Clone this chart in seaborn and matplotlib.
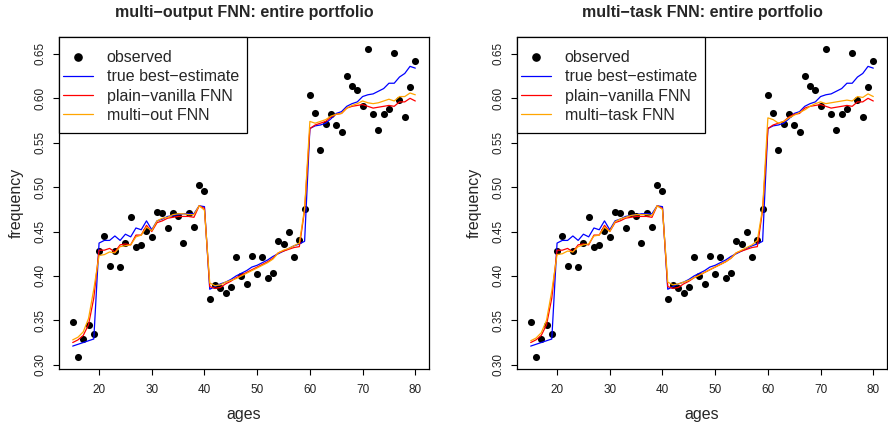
import numpy as np
import pandas as pd
import matplotlib
matplotlib.use("Agg")
import matplotlib.pyplot as plt
import seaborn as sns
from matplotlib.lines import Line2D
from matplotlib.patches import Rectangle

# ---------------- data ----------------
ages = list(range(15, 81))

observed = [0.348, 0.309, 0.329, 0.345, 0.335, 0.428, 0.445, 0.411, 0.428, 0.410,
            0.437, 0.466, 0.433, 0.435, 0.451, 0.444, 0.472, 0.471, 0.454, 0.471,
            0.467, 0.437, 0.471, 0.455, 0.502, 0.496, 0.374, 0.390, 0.386, 0.381,
            0.387, 0.421, 0.400, 0.391, 0.423, 0.402, 0.421, 0.398, 0.403, 0.439,
            0.436, 0.449, 0.421, 0.441, 0.475, 0.604, 0.584, 0.542, 0.571, 0.582,
            0.570, 0.562, 0.625, 0.614, 0.609, 0.591, 0.655, 0.582, 0.564, 0.582,
            0.588, 0.651, 0.598, 0.579, 0.613, 0.642]

true_best = [0.321, 0.323, 0.325, 0.327, 0.329, 0.437, 0.440, 0.440, 0.445, 0.440,
             0.447, 0.444, 0.454, 0.452, 0.462, 0.452, 0.462, 0.464, 0.467, 0.468,
             0.469, 0.470, 0.470, 0.470, 0.479, 0.478, 0.385, 0.388, 0.391, 0.393,
             0.396, 0.400, 0.403, 0.406, 0.410, 0.412, 0.415, 0.418, 0.422, 0.425,
             0.428, 0.431, 0.434, 0.436, 0.439, 0.566, 0.569, 0.570, 0.572, 0.577,
             0.583, 0.585, 0.591, 0.594, 0.596, 0.602, 0.604, 0.605, 0.608, 0.611,
             0.617, 0.617, 0.624, 0.628, 0.636, 0.634]

plain_vanilla = [0.325, 0.328, 0.333, 0.345, 0.375, 0.429, 0.429, 0.431, 0.427, 0.435,
                 0.436, 0.435, 0.446, 0.446, 0.457, 0.450, 0.460, 0.462, 0.465, 0.466,
                 0.467, 0.467, 0.467, 0.466, 0.479, 0.476, 0.388, 0.386, 0.387, 0.391,
                 0.394, 0.398, 0.401, 0.404, 0.407, 0.410, 0.413, 0.416, 0.420, 0.426,
                 0.428, 0.430, 0.432, 0.433, 0.474, 0.566, 0.570, 0.572, 0.574, 0.579,
                 0.582, 0.583, 0.589, 0.591, 0.592, 0.593, 0.591, 0.589, 0.590, 0.591,
                 0.592, 0.591, 0.596, 0.596, 0.600, 0.597]

multi_out = [0.328, 0.331, 0.337, 0.352, 0.385, 0.423, 0.424, 0.427, 0.426, 0.433,
             0.434, 0.435, 0.444, 0.446, 0.455, 0.451, 0.462, 0.465, 0.466, 0.469,
             0.470, 0.470, 0.469, 0.469, 0.479, 0.474, 0.392, 0.389, 0.390, 0.393,
             0.395, 0.397, 0.400, 0.403, 0.406, 0.409, 0.412, 0.415, 0.419, 0.426,
             0.429, 0.431, 0.434, 0.437, 0.476, 0.574, 0.572, 0.574, 0.576, 0.580,
             0.582, 0.583, 0.589, 0.592, 0.594, 0.597, 0.595, 0.594, 0.595, 0.597,
             0.599, 0.597, 0.602, 0.602, 0.606, 0.604]

multi_task = [0.327, 0.330, 0.336, 0.350, 0.383, 0.424, 0.425, 0.428, 0.427, 0.433,
              0.435, 0.436, 0.445, 0.446, 0.455, 0.450, 0.461, 0.464, 0.466, 0.468,
              0.469, 0.469, 0.469, 0.468, 0.479, 0.475, 0.393, 0.390, 0.391, 0.393,
              0.395, 0.398, 0.401, 0.404, 0.407, 0.410, 0.413, 0.416, 0.420, 0.426,
              0.429, 0.432, 0.435, 0.440, 0.476, 0.578, 0.576, 0.572, 0.574, 0.578,
              0.581, 0.584, 0.587, 0.591, 0.594, 0.596, 0.594, 0.595, 0.596, 0.597,
              0.598, 0.597, 0.602, 0.601, 0.605, 0.602]

titles = ["multi\u2212output FNN: entire portfolio", "multi\u2212task FNN: entire portfolio"]
model_labels = ["multi\u2212out FNN", "multi\u2212task FNN"]
model_series = [multi_out, multi_task]
x_ticks = [20, 30, 40, 50, 60, 70, 80]
y_ticks = [0.30, 0.35, 0.40, 0.45, 0.50, 0.55, 0.60, 0.65]

# ---------------- style ----------------
sns.set_style("white")
plt.rcParams["font.family"] = ["Liberation Sans", "DejaVu Sans"]

fig = plt.figure(figsize=(8.88, 4.26), dpi=100)
W, H = 888, 426
panels = [(59, 429), (517, 887)]
top_px, bot_px = 36.7, 369
ax_h = bot_px - top_px

for i, (xl, xr) in enumerate(panels):
    ax_w = xr - xl
    ax = fig.add_axes([xl / W, 1 - bot_px / H, ax_w / W, ax_h / H])
    df_obs = pd.DataFrame({"age": ages, "freq": observed})
    sns.scatterplot(data=df_obs, x="age", y="freq", color="black", s=26,
                    linewidth=0, ax=ax, zorder=2, legend=False)
    line_specs = [(true_best, "#0000FF", "true best\u2212estimate"),
                  (plain_vanilla, "#FF0000", "plain\u2212vanilla FNN"),
                  (model_series[i], "#FFA500", model_labels[i])]
    for vals, col, lab in line_specs:
        dfl = pd.DataFrame({"age": ages, "freq": vals})
        sns.lineplot(data=dfl, x="age", y="freq", color=col, lw=0.9, ax=ax,
                     zorder=3, legend=False)
    ax.set_xlim(12.4, 82.6)
    ax.set_ylim(0.2952, 0.6694)
    ax.set_xticks(x_ticks)
    ax.set_xticklabels([str(t) for t in x_ticks])
    ax.set_yticks(y_ticks)
    ax.set_yticklabels([f"{t:.2f}" for t in y_ticks], rotation=90, va="center")
    ax.tick_params(axis="both", direction="out", length=4, width=0.8,
                   labelsize=8.5, colors="black", labelcolor="#222222")
    ax.tick_params(axis="x", pad=7)
    ax.tick_params(axis="y", pad=5)
    ax.tick_params(axis="both", bottom=True, left=True)
    for s in ax.spines.values():
        s.set_visible(True)
        s.set_color("black")
        s.set_linewidth(0.9)
    ax.set_xlabel("ages", fontsize=11.5, labelpad=8)
    ax.set_ylabel("frequency", fontsize=11.5, labelpad=8)
    ax.set_title(titles[i], fontsize=11.5, fontweight="bold", pad=14.5)

    # legend frame (R-style box)
    lb_w, lb_h = 188.3, 96.6
    ax.add_patch(Rectangle((0, 1 - lb_h / ax_h), lb_w / ax_w, lb_h / ax_h,
                           transform=ax.transAxes, facecolor="white",
                           edgecolor="black", lw=0.9, zorder=5, clip_on=False))
    handles = [Line2D([], [], ls="none", marker="o", color="black", markersize=5.2),
               Line2D([], [], color="#0000FF", lw=0.9),
               Line2D([], [], color="#FF0000", lw=0.9),
               Line2D([], [], color="#FFA500", lw=0.9)]
    labels = ["observed", "true best\u2212estimate", "plain\u2212vanilla FNN", model_labels[i]]
    leg = ax.legend(handles, labels, loc="upper left",
                    bbox_to_anchor=(4.3 / ax_w, 1 - 13.5 / ax_h),
                    borderaxespad=0, borderpad=0, fontsize=11.5, frameon=False,
                    handlelength=1.875, handletextpad=0.85, labelspacing=0.26)
    leg.set_zorder(6)

fig.savefig("out.png", dpi=100)
